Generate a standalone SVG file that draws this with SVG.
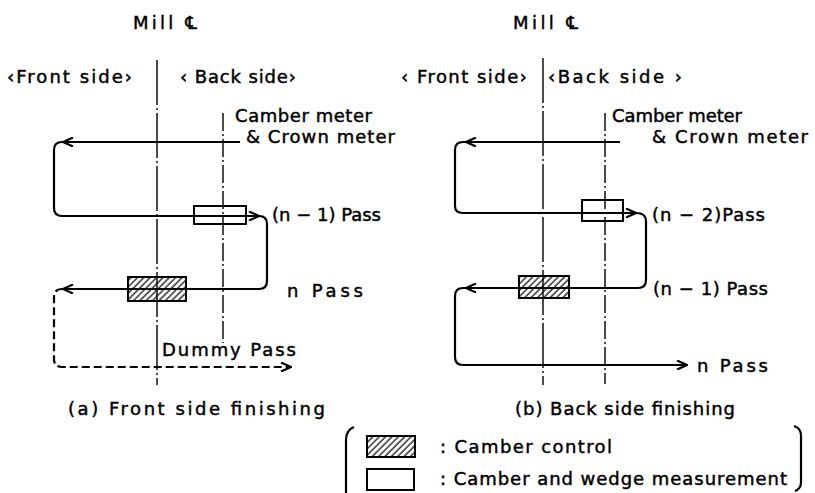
<svg xmlns="http://www.w3.org/2000/svg" width="815" height="493" viewBox="0 0 815 493">
<style>
text{font-family:"DejaVu Sans","Liberation Sans",sans-serif;font-size:18px;fill:#000;stroke:#000;stroke-width:0.45}
.flow{fill:none;stroke:#000;stroke-width:2.2;stroke-linejoin:round}
.dash{stroke-dasharray:8 4}
.cl{fill:none;stroke:#000;stroke-width:1.4;stroke-dasharray:45 3 2 3}
.ml{fill:none;stroke:#000;stroke-width:1.4;stroke-dasharray:18 3 2 3}
.box{fill:none;stroke:#000;stroke-width:2}
.hbox{fill:url(#hatch);stroke:#000;stroke-width:2}
</style>
<defs>
<pattern id="hatch" patternUnits="userSpaceOnUse" width="4.5" height="4.5" patternTransform="rotate(45)">
<line x1="1" y1="0" x2="1" y2="4.5" stroke="#000" stroke-width="1.2"/>
</pattern>
<marker id="arr" viewBox="0 0 12 10" refX="11" refY="5" markerWidth="12" markerHeight="10" markerUnits="userSpaceOnUse" orient="auto">
<path d="M1,0.5 L11,5 L1,9.5" fill="none" stroke="#000" stroke-width="2.2"/>
</marker>
</defs>

<g id="panel-a-lines">
<line class="cl" x1="157" y1="60" x2="157" y2="385"/>
<line class="ml" x1="223" y1="113" x2="223" y2="343"/>
</g>
<g id="panel-b-lines">
<line class="cl" x1="543" y1="58" x2="543" y2="385"/>
<line class="ml" x1="605" y1="113" x2="605" y2="384"/>
</g>

<g id="connectors">
<path class="flow" d="M240,142 H63" marker-end="url(#arr)"/>
<path class="flow" d="M63,142 H62 Q54,142 54,150 V208 Q54,216 62,216 H259" marker-end="url(#arr)"/>
<path class="flow" d="M259,216 Q267,216 267,224 V281 Q267,289 259,289 H63" marker-end="url(#arr)"/>
<path class="flow dash" d="M63,289 H62 Q54,289 54,297 V359 Q54,367 62,367 H291" marker-end="url(#arr)"/>

<path class="flow" d="M620,142 H466" marker-end="url(#arr)"/>
<path class="flow" d="M466,142 H463 Q455,142 455,150 V206 Q455,213 463,213 H636" marker-end="url(#arr)"/>
<path class="flow" d="M636,213 Q646,213 646,221 V280 Q646,288 638,288 H466" marker-end="url(#arr)"/>
<path class="flow" d="M466,288 H463 Q455,288 455,296 V357 Q455,365 463,365 H687" marker-end="url(#arr)"/>
</g>

<g id="a-measure"><rect class="box" x="194" y="206" width="52" height="18"/></g>
<g id="a-control"><rect class="hbox" x="128" y="277" width="58" height="24"/><line x1="128" y1="289" x2="186" y2="289" stroke="#000" stroke-width="2"/></g>
<g id="b-measure"><rect class="box" x="582" y="200" width="41" height="21"/></g>
<g id="b-control"><rect class="hbox" x="519" y="276" width="50" height="22"/><line x1="519" y1="288" x2="569" y2="288" stroke="#000" stroke-width="2"/></g>

<g id="a-labels">
<text x="133" y="29" textLength="64" lengthAdjust="spacing">Mill ℄</text>
<text x="7" y="83" textLength="125" lengthAdjust="spacing">‹Front side›</text>
<text x="180" y="83" textLength="116" lengthAdjust="spacing">‹ Back side›</text>
<text x="235" y="122" textLength="137" lengthAdjust="spacing">Camber meter</text>
<text x="246" y="143" textLength="149" lengthAdjust="spacing">&amp; Crown meter</text>
<text x="272" y="221" textLength="109" lengthAdjust="spacing">(n − 1) Pass</text>
<text x="287" y="297" textLength="76" lengthAdjust="spacing">n  Pass</text>
<text x="162" y="356" textLength="134" lengthAdjust="spacing">Dummy Pass</text>
<text x="68" y="415" textLength="257" lengthAdjust="spacing">(a) Front side finishing</text>
</g>

<g id="b-labels">
<text x="513" y="29" textLength="65" lengthAdjust="spacing">Mill ℄</text>
<text x="401" y="83" textLength="126" lengthAdjust="spacing">‹ Front side›</text>
<text x="548" y="83" textLength="134" lengthAdjust="spacing">‹Back side ›</text>
<text x="612" y="122" textLength="130" lengthAdjust="spacing">Camber meter</text>
<text x="652" y="143" textLength="156" lengthAdjust="spacing">&amp; Crown  meter</text>
<text x="652" y="221" textLength="113" lengthAdjust="spacing">(n − 2)Pass</text>
<text x="653" y="295" textLength="115" lengthAdjust="spacing">(n − 1) Pass</text>
<text x="697" y="372" textLength="71" lengthAdjust="spacing">n  Pass</text>
<text x="515" y="415" textLength="220" lengthAdjust="spacing">(b) Back side finishing</text>
</g>

<g id="legend">
<path class="flow" d="M354,427 Q346,430 346,440 V493"/>
<path class="flow" d="M794,426 Q801,428 801,436 V482 Q801,489 795,491"/>
<rect class="hbox" x="367" y="436" width="48" height="21"/>
<rect class="box" x="367" y="469" width="47" height="21"/>
<text x="440" y="453" textLength="172" lengthAdjust="spacing">: Camber control</text>
<text x="440" y="485" textLength="347" lengthAdjust="spacing">: Camber and wedge measurement</text>
</g>
</svg>
